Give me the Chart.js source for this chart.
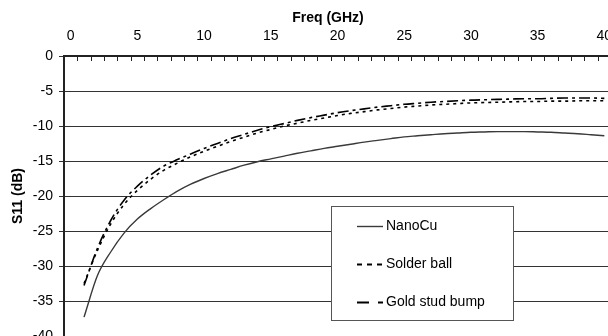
<!DOCTYPE html>
<html>
<head>
<meta charset="utf-8">
<script src="https://cdn.jsdelivr.net/npm/chart.js@4"></script>
<style>
  html, body { margin: 0; padding: 0; background: #fff; overflow: hidden; }
  #wrap { position: relative; width: 608px; height: 336px; overflow: hidden; }
  canvas { position: absolute; left: 0; top: 0; }
</style>
</head>
<body>
<div id="wrap"><canvas id="c" width="611" height="340"></canvas></div>
<script>
// Frequency categories (GHz)
const freqGHz = Array.from({ length: 41 }, (_, i) => String(i));

// Return loss S11 (dB) per interconnect, one value per GHz (none at 0 GHz)
const nanoCu = [null,
  -37.3, -31.4, -28.0, -25.3, -23.3, -21.8, -20.5, -19.3, -18.3, -17.5,
  -16.8, -16.2, -15.6, -15.1, -14.7, -14.3, -13.9, -13.55, -13.2, -12.9,
  -12.6, -12.3, -12.05, -11.8, -11.55, -11.4, -11.25, -11.1, -11.0, -10.9,
  -10.85, -10.8, -10.8, -10.8, -10.85, -10.9, -11.0, -11.1, -11.25, -11.4];
const solderBall = [null,
  -32.5, -27.8, -24.0, -21.2, -19.2, -17.6, -16.3, -15.3, -14.4, -13.6,
  -12.9, -12.2, -11.6, -11.0, -10.5, -10.0, -9.6, -9.2, -8.85, -8.5,
  -8.2, -7.95, -7.7, -7.5, -7.3, -7.15, -7.0, -6.9, -6.8, -6.7,
  -6.65, -6.6, -6.55, -6.5, -6.5, -6.45, -6.45, -6.4, -6.4, -6.4];
const goldStudBump = [null,
  -32.8, -27.5, -23.5, -20.6, -18.6, -17.0, -15.7, -14.8, -14.0, -13.2,
  -12.5, -11.8, -11.2, -10.6, -10.1, -9.65, -9.2, -8.8, -8.45, -8.1,
  -7.8, -7.55, -7.3, -7.1, -6.9, -6.75, -6.6, -6.5, -6.4, -6.3,
  -6.25, -6.2, -6.15, -6.1, -6.1, -6.05, -6.0, -6.0, -6.0, -6.05];

const seriesNames = ['NanoCu', 'Solder ball', 'Gold stud bump'];
const yTicks = { min: -40, max: 0, step: 5 };

const FONT = '"Liberation Sans", Arial, sans-serif';

// Keep the plot edges fixed: no extra room reserved for overhanging end labels
function fixPadding(scale) {
  scale.paddingLeft = 0;
  scale.paddingRight = 0;
  scale.paddingTop = 0;
  scale.paddingBottom = 0;
}

// Minor tick marks on the top axis point down into the plot, one per category boundary
const innerTicks = {
  id: 'innerTicks',
  afterDraw(chart) {
    const { ctx, chartArea } = chart;
    const n = freqGHz.length;
    const w = chartArea.width / n;
    ctx.save();
    ctx.strokeStyle = '#222';
    ctx.lineWidth = 1;
    ctx.beginPath();
    for (let i = 0; i <= n; i++) {
      const x = Math.round(chartArea.left + i * w) + 0.5;
      ctx.moveTo(x, chartArea.top);
      ctx.lineTo(x, chartArea.top + 5);
    }
    ctx.stroke();
    ctx.restore();
  }
};

// Axis title above the frequency labels
const topTitle = {
  id: 'topTitle',
  afterDraw(chart) {
    const { ctx } = chart;
    ctx.save();
    ctx.font = 'bold 14px ' + FONT;
    ctx.fillStyle = '#000';
    ctx.textAlign = 'center';
    ctx.textBaseline = 'middle';
    ctx.fillText('Freq (GHz)', 328, 18);
    ctx.restore();
  }
};

// Boxed legend sitting inside the plot area; samples use a coarser dash so the pattern reads
const boxLegend = {
  id: 'boxLegend',
  afterDraw(chart) {
    const { ctx } = chart;
    const bx = 331.5, by = 206.5, bw = 182, bh = 114;
    const rows = [226.5, 264.5, 302.5];
    ctx.save();
    ctx.fillStyle = '#fff';
    ctx.fillRect(bx, by, bw, bh);
    ctx.strokeStyle = '#555';
    ctx.lineWidth = 1;
    ctx.strokeRect(bx, by, bw, bh);
    chart.data.datasets.forEach((ds, i) => {
      const y = rows[i];
      ctx.save();
      ctx.strokeStyle = ds.borderColor;
      ctx.lineWidth = ds.legendWidth;
      ctx.setLineDash(ds.legendDash);
      ctx.beginPath();
      ctx.moveTo(357, y);
      ctx.lineTo(383, y);
      ctx.stroke();
      ctx.restore();
      ctx.font = '14px ' + FONT;
      ctx.fillStyle = '#000';
      ctx.textAlign = 'left';
      ctx.textBaseline = 'middle';
      ctx.fillText(ds.label, 386, y);
    });
    ctx.restore();
  }
};

new Chart(document.getElementById('c'), {
  type: 'line',
  data: {
    labels: freqGHz,
    datasets: [
      { label: seriesNames[0], data: nanoCu, borderColor: '#3a3a3a', borderWidth: 1.4, borderDash: [],
        legendDash: [], legendWidth: 1.4 },
      { label: seriesNames[1], data: solderBall, borderColor: '#000', borderWidth: 1.6, borderDash: [3, 4],
        legendDash: [5, 5], legendWidth: 2 },
      { label: seriesNames[2], data: goldStudBump, borderColor: '#000', borderWidth: 1.6, borderDash: [11, 4, 3, 4],
        legendDash: [12, 9, 5, 9], legendWidth: 2 }
    ].map(d => Object.assign(d, { pointRadius: 0, fill: false, cubicInterpolationMode: 'monotone', spanGaps: false }))
  },
  options: {
    responsive: false,
    animation: false,
    devicePixelRatio: 1,
    layout: { autoPadding: false, padding: { left: 0, right: 0, top: 0, bottom: 4 } },
    plugins: { legend: { display: false }, tooltip: { enabled: false }, title: { display: false } },
    scales: {
      x: {
        type: 'category',
        position: 'top',
        offset: true,
        grid: { display: true, drawOnChartArea: false, drawTicks: false, offset: true },
        border: { display: true, color: '#222', width: 2 },
        ticks: {
          autoSkip: false, maxRotation: 0, minRotation: 0, padding: 11,
          color: '#000', font: { family: FONT, size: 14 },
          callback: (v, i) => (i % 5 === 0 ? freqGHz[i] : '')
        },
        afterFit(scale) { scale.height = 56; fixPadding(scale); }
      },
      y: {
        min: yTicks.min, max: yTicks.max,
        grid: { color: '#333', lineWidth: 1, tickLength: 5, drawTicks: true },
        border: { display: true, color: '#222', width: 2 },
        ticks: { stepSize: yTicks.step, padding: 6, color: '#000', font: { family: FONT, size: 14 } },
        title: { display: true, text: 'S11 (dB)', color: '#000', font: { family: FONT, size: 14, weight: 'bold' }, padding: { top: 10, bottom: 0 } },
        afterFit(scale) { scale.width = 64; fixPadding(scale); }
      }
    }
  },
  plugins: [innerTicks, topTitle, boxLegend]
});
</script>
</body>
</html>
